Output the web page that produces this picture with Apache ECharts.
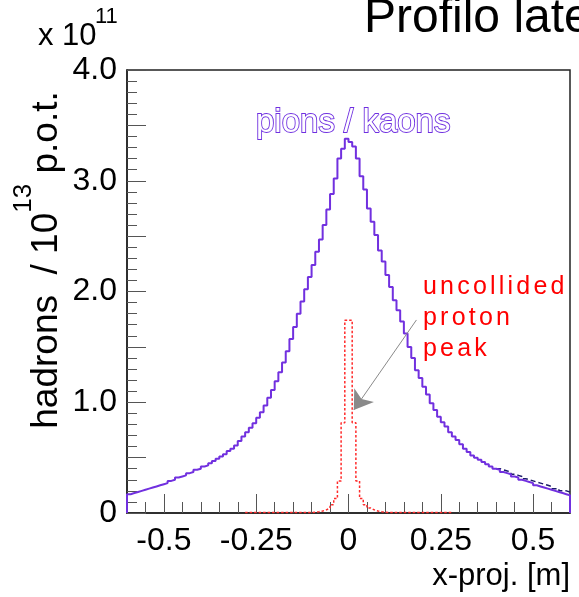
<!DOCTYPE html>
<html>
<head>
<meta charset="utf-8">
<script src="https://cdn.jsdelivr.net/npm/echarts@6/dist/echarts.min.js"></script>
<style>
  html, body { margin: 0; padding: 0; background: #fff; }
  #chart { width: 579px; height: 597px; }
</style>
</head>
<body>
<div id="chart"></div>
<script>
// histogram binning (x-proj. in m)
var binStart = -0.6
var binWidth = 0.01

// pions / kaons, bins from -0.60 to 0.59 (x 10^11 hadrons / 10^13 p.o.t.)
var pionsKaons = [
  0.17, 0.18, 0.19, 0.20, 0.21, 0.22, 0.23, 0.24, 0.25, 0.26,
  0.27, 0.29, 0.30, 0.32, 0.33, 0.34, 0.36, 0.37, 0.39, 0.40,
  0.42, 0.43, 0.45, 0.47, 0.49, 0.51, 0.53, 0.56, 0.58, 0.61,
  0.65, 0.69, 0.73, 0.77, 0.81, 0.86, 0.91, 0.97, 1.04, 1.11,
  1.19, 1.27, 1.36, 1.46, 1.57, 1.68, 1.80, 1.91, 2.02, 2.13,
  2.24, 2.36, 2.47, 2.60, 2.74, 2.88, 3.02, 3.20, 3.29, 3.38,
  3.35, 3.31, 3.20, 3.04, 2.92, 2.75, 2.63, 2.51, 2.37, 2.27,
  2.15, 2.04, 1.92, 1.83, 1.73, 1.62, 1.50, 1.40, 1.29, 1.22,
  1.14, 1.07, 0.99, 0.93, 0.87, 0.82, 0.78, 0.73, 0.69, 0.66,
  0.62, 0.58, 0.55, 0.52, 0.50, 0.48, 0.46, 0.44, 0.42, 0.40,
  0.39, 0.37, 0.36, 0.35, 0.33, 0.32, 0.30, 0.29, 0.28, 0.27,
  0.25, 0.24, 0.23, 0.22, 0.21, 0.20, 0.19, 0.18, 0.17, 0.16
]

// second (dashed) histogram, only where it differs, bins from 0.40 to 0.59
var dashedStart = 0.40
var dashedTail = [
  0.40, 0.39, 0.38, 0.37, 0.35, 0.34, 0.33, 0.31, 0.30, 0.29,
  0.28, 0.27, 0.26, 0.25, 0.24, 0.22, 0.22, 0.20, 0.20, 0.19
]

// uncollided proton peak, bins from -0.28 to 0.27
var protonStart = -0.28
var protonPeak = [
  0.004, 0.004, 0.004, 0.004, 0.004, 0.004, 0.004, 0.004, 0.004, 0.004,
  0.004, 0.004, 0.004, 0.004, 0.004, 0.004, 0.004, 0.004,
  0.008, 0.012, 0.018, 0.028, 0.045, 0.075, 0.13, 0.29, 0.815, 1.74,
  1.74, 0.815, 0.29, 0.13, 0.075, 0.045, 0.028, 0.018, 0.012, 0.008,
  0.004, 0.004, 0.004, 0.004, 0.004, 0.004, 0.004, 0.004, 0.004, 0.004,
  0.004, 0.004, 0.004, 0.004, 0.004, 0.004, 0.004, 0.004
]

var xMajorTicks = [-0.5, -0.25, 0, 0.25, 0.5]

var FONT = '"Liberation Sans", Arial, Helvetica, sans-serif'

// bin contents -> points for a step line (left edges + closing right edge)
function toSteps(start, values, closeToZero) {
  var pts = []
  if (closeToZero) pts.push([start, 0])
  for (var i = 0; i < values.length; i++) {
    pts.push([+(start + i * binWidth).toFixed(4), values[i]])
  }
  var end = +(start + values.length * binWidth).toFixed(4)
  pts.push([end, values[values.length - 1]])
  if (closeToZero) pts.push([end, 0])
  return pts
}

// text with extra letter spacing, one element per character
var measureCtx = document.createElement('canvas').getContext('2d')
function spacedText(str, x, y, size, spacing, color) {
  var font = size + 'px ' + FONT
  measureCtx.font = font
  var out = []
  var cx = x
  for (var i = 0; i < str.length; i++) {
    out.push({
      type: 'text',
      x: cx,
      y: y,
      style: { text: str[i], font: font, fill: color, align: 'left', verticalAlign: 'middle' }
    })
    cx += measureCtx.measureText(str[i]).width + spacing
  }
  return out
}

var chart = echarts.init(document.getElementById('chart'), null, { renderer: 'canvas' })

var graphics = [
  {
    type: 'text', x: 364, y: -5,
    style: { text: 'Profilo laterale', font: '48px ' + FONT, fill: '#000', verticalAlign: 'top' }
  },
  {
    type: 'text', x: 38, y: 36,
    style: { text: 'x 10', font: '31px ' + FONT, fill: '#000', verticalAlign: 'middle' }
  },
  {
    type: 'text', x: 95, y: 17,
    style: { text: '11', font: '22px ' + FONT, fill: '#000', verticalAlign: 'middle' }
  },
  {
    type: 'text', x: 38, y: 260, rotation: Math.PI / 2,
    style: {
      text: '{n|hadrons  / 10}{s|13}{n| p.o.t.}',
      align: 'center',
      verticalAlign: 'middle',
      fill: '#000',
      rich: {
        n: { fontSize: 37, fontFamily: FONT, lineHeight: 54, verticalAlign: 'bottom' },
        s: { fontSize: 26, fontFamily: FONT, lineHeight: 54, verticalAlign: 'top' }
      }
    }
  },
  {
    type: 'text', x: 570, y: 576,
    style: { text: 'x-proj. [m]', font: '31px ' + FONT, fill: '#000', align: 'right', verticalAlign: 'middle' }
  },
  {
    type: 'text', x: 256, y: 123, z: 10,
    style: {
      text: 'pions / kaons', font: '33px ' + FONT,
      fill: '#ffffff', stroke: '#6f2fe0', lineWidth: 1.8, verticalAlign: 'middle'
    }
  }
]
graphics = graphics
  .concat(spacedText('uncollided', 423, 287, 25, 3.2, '#ff0000'))
  .concat(spacedText('proton', 423, 318, 25, 3.2, '#ff0000'))
  .concat(spacedText('peak', 423, 349, 25, 3.2, '#ff0000'))

chart.setOption({
  animation: false,
  backgroundColor: '#fff',
  grid: {
    left: 127,
    right: 9,
    top: 70,
    bottom: 84,
    show: true,
    borderColor: '#222',
    borderWidth: 1.5,
    backgroundColor: 'transparent'
  },
  xAxis: [
    {
      type: 'value',
      min: -0.6,
      max: 0.6,
      interval: 0.05,
      axisLine: { onZero: false, lineStyle: { color: '#222', width: 1.5 } },
      axisTick: { inside: true, length: 11, lineStyle: { color: '#555' } },
      axisLabel: { show: false },
      splitLine: { show: false }
    },
    {
      type: 'value',
      min: -0.6,
      max: 0.6,
      position: 'bottom',
      axisLine: { show: false, onZero: false },
      axisTick: { inside: true, length: 19, customValues: xMajorTicks, lineStyle: { color: '#555' } },
      axisLabel: {
        customValues: xMajorTicks,
        fontSize: 32,
        fontFamily: FONT,
        color: '#000',
        margin: 12,
        formatter: function (v) {
          return String(v)
        }
      },
      splitLine: { show: false }
    }
  ],
  yAxis: {
    type: 'value',
    min: 0,
    max: 4,
    interval: 0.5,
    axisLine: { show: true, onZero: false, lineStyle: { color: '#222', width: 1.5 } },
    axisTick: { show: true, inside: true, length: 19, lineStyle: { color: '#555' } },
    minorTick: { show: true, splitNumber: 5, length: 10, lineStyle: { color: '#555' } },
    axisLabel: {
      fontSize: 32,
      fontFamily: FONT,
      color: '#000',
      margin: 10,
      formatter: function (v) {
        if (Math.abs(v - Math.round(v)) > 1e-6) return ''
        return v === 0 ? '0' : v.toFixed(1)
      }
    },
    splitLine: { show: false }
  },
  series: [
    {
      name: 'dashed',
      type: 'line',
      step: 'end',
      symbol: 'none',
      z: 1,
      data: toSteps(dashedStart, dashedTail, false),
      lineStyle: { color: '#1c1c6a', width: 1.5, type: [5, 3] }
    },
    {
      name: 'pions / kaons',
      type: 'line',
      step: 'end',
      symbol: 'none',
      z: 3,
      data: toSteps(binStart, pionsKaons, true),
      lineStyle: { color: '#7130df', width: 2 }
    },
    {
      name: 'uncollided proton peak',
      type: 'line',
      step: 'end',
      symbol: 'none',
      z: 4,
      data: toSteps(protonStart, protonPeak, false),
      lineStyle: { color: '#ff2a2a', width: 1.5, type: [2.5, 2] },
      markLine: {
        silent: true,
        symbol: ['none', 'arrow'],
        symbolSize: 18,
        label: { show: false },
        lineStyle: { color: '#8a8a8a', width: 1, type: 'solid' },
        data: [[{ coord: [0.184, 1.743] }, { coord: [0.0144, 0.93] }]]
      }
    }
  ],
  graphic: graphics
})
</script>
</body>
</html>
